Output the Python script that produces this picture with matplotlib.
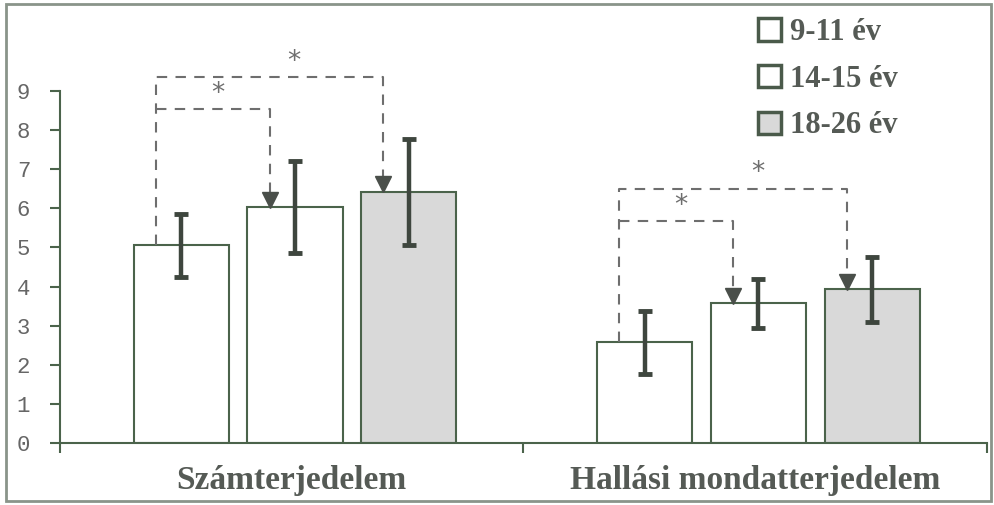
#!/usr/bin/env python3
"""Bar chart of span scores by age group with significance brackets."""

import matplotlib.pyplot as plt
from matplotlib.patches import Patch, Rectangle

categories = ["Számterjedelem", "Hallási mondatterjedelem"]
groups = ["9-11 év", "14-15 év", "18-26 év"]
means = [
    [5.05, 2.57],   # 9-11 év
    [6.03, 3.57],   # 14-15 év
    [6.42, 3.93],   # 18-26 év
]
errors = [
    [0.80, 0.81],
    [1.17, 0.63],
    [1.36, 0.83],
]
# significance brackets (9-11 vs 14-15, 9-11 vs 18-26)
sig_inner = [8.54, 5.68]
sig_outer = [9.36, 6.50]

line_col = "#4b634b"
err_col = "#3e463e"
dash_col = "#6e6e6e"
text_col = "#555a55"
fills = ["white", "white", "#d9d9d9"]

fig = plt.figure(figsize=(9.95, 5.05), dpi=100)
ax = fig.add_axes([60 / 995, 62 / 505, 927 / 995, 352 / 505])

width = 0.205
step = 0.245
shift = 0.007
for i, (vals, errs) in enumerate(zip(means, errors)):
    xs = [c + (i - 1) * step + shift for c in range(len(categories))]
    ax.bar(xs, vals, width, yerr=errs, facecolor=fills[i], edgecolor=line_col,
           linewidth=1.5, label=groups[i], zorder=2,
           error_kw=dict(ecolor=err_col, elinewidth=3.2, capsize=5, capthick=3.5, zorder=3))

# significance brackets
dx = -0.055
for c in range(len(categories)):
    x0 = c - step + shift + dx
    x1 = c + shift + dx
    x2 = c + step + shift + dx
    y0 = means[0][c]
    kw = dict(color=dash_col, lw=1.5, ls=(0, (5, 4)), clip_on=False, zorder=4)
    ax.plot([x0, x0, x2, x2], [y0, sig_outer[c], sig_outer[c], means[2][c] + 0.35], **kw)
    ax.plot([x0, x1, x1], [sig_inner[c], sig_inner[c], means[1][c] + 0.35], **kw)
    for xa, top in [(x1, means[1][c]), (x2, means[2][c])]:
        ax.plot(xa, top + 0.19, marker="v", ms=11, color="#4a4f4a", clip_on=False, zorder=5)
    ax.text(c - 0.16, sig_inner[c] + 0.06, "*", ha="center", va="bottom",
            fontsize=19, color=dash_col, clip_on=False)
    ax.text(c + 0.005, sig_outer[c] + 0.06, "*", ha="center", va="bottom",
            fontsize=19, color=dash_col, clip_on=False)

ax.set_xlim(-0.5, 1.5)
ax.set_ylim(0, 9)
ax.set_yticks(range(10))
ax.set_xticks([-0.5, 0.5, 1.5])
ax.set_xticklabels([])
ax.set_xticks([0, 1], minor=True)
ax.set_xticklabels(categories, minor=True, fontsize=24, fontweight="bold",
                   family="Liberation Serif", color=text_col)
ax.tick_params(axis="x", which="major", direction="out", length=7.5, width=1.5, color=line_col)
ax.tick_params(axis="x", which="minor", length=0, pad=16)
ax.tick_params(axis="y", direction="out", length=7.5, width=1.5, color=line_col,
               pad=14, labelsize=16, labelcolor="#666666")
for lab in ax.get_yticklabels():
    lab.set_family("Liberation Mono")

for s in ["top", "right"]:
    ax.spines[s].set_visible(False)
for s in ["left", "bottom"]:
    ax.spines[s].set_color(line_col)
    ax.spines[s].set_linewidth(1.5)
ax.spines["left"].set_bounds(0, 9)

handles = [Patch(facecolor=f, edgecolor="#4a5a4a", linewidth=2.5) for f in fills]
ax.legend(handles, groups, loc="upper left", bbox_to_anchor=(758 / 995, 1 - 18 / 505),
          bbox_transform=fig.transFigure, frameon=False, handlelength=0.75,
          handleheight=0.75, handletextpad=0.3, labelspacing=0.58,
          prop=dict(family="Liberation Serif", weight="bold", size=22),
          labelcolor=text_col, borderpad=0, borderaxespad=0)

# outer frame around the picture
fig.add_artist(Rectangle((6 / 995, 4 / 505), 985 / 995, 497 / 505, transform=fig.transFigure,
                         fill=False, edgecolor="#8a948a", linewidth=2))

fig.savefig("out.png", dpi=100)
plt.close(fig)
